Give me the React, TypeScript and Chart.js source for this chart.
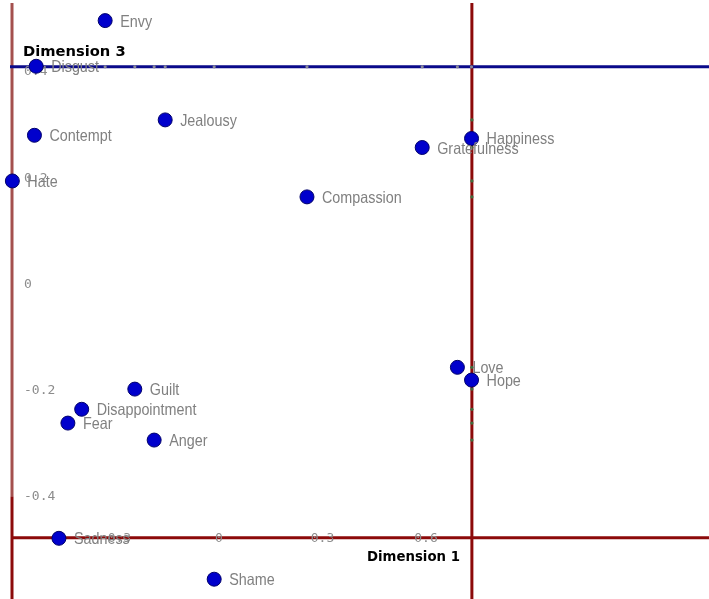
import React, { useEffect, useRef } from "react";
import { Chart, registerables } from "chart.js";

Chart.register(...registerables);

// ---- data ----
const emotions = [
  "Envy", "Disgust", "Contempt", "Jealousy", "Hate", "Compassion", "Gratefulness", "Happiness",
  "Love", "Hope", "Guilt", "Disappointment", "Fear", "Anger", "Sadness", "Shame",
];
const dimension1 = [
  -0.33, -0.53, -0.535, -0.156, -0.599, 0.255, 0.589, 0.732,
  0.691, 0.732, -0.244, -0.398, -0.438, -0.188, -0.464, -0.014,
];
const dimension3 = [
  0.497, 0.411, 0.281, 0.31, 0.195, 0.165, 0.258, 0.275,
  -0.156, -0.18, -0.197, -0.235, -0.261, -0.293, -0.478, -0.555,
];

const xTicks = [-0.3, 0, 0.3, 0.6];
const xTickLabels = ["-0.3", "0", "0.3", "0.6"];
const yTicks = [0.4, 0.2, 0, -0.2, -0.4];
const yTickLabels = ["0.4", "0.2", "0", "-0.2", "-0.4"];

const xRange = [-0.6348, 1.4203];
const yRange = [-0.5923, 0.5358];

// axis lines (data coordinates)
const verticalLines = [-0.6, 0.733];
const horizontalLines = [0.41, -0.477];
const lineTop = 0.53;
const leftLineSplit = -0.4;

const projectedOnHorizontal = ["Envy", "Jealousy", "Guilt", "Anger", "Shame", "Compassion", "Gratefulness", "Love", "Happiness"];
const projectedOnVertical = ["Jealousy", "Happiness", "Gratefulness", "Hate", "Compassion", "Love", "Guilt", "Disappointment", "Fear", "Anger"];

const titleX = "Dimension 1";
const titleY = "Dimension 3";

const idx = (name: string) => emotions.indexOf(name);

const axesPlugin = {
  id: "customAxes",
  beforeDatasetsDraw(chart: any) {
    const { ctx, scales } = chart;
    const xs = scales.x;
    const ys = scales.y;
    const xMaxPx = xs.getPixelForValue(xRange[1]);
    const yBottomPx = ys.getPixelForValue(yRange[0]);
    const topPx = ys.getPixelForValue(lineTop);
    ctx.save();
    ctx.lineWidth = 3;
    ctx.lineCap = "butt";

    const lx = xs.getPixelForValue(verticalLines[0]);
    const splitPx = ys.getPixelForValue(leftLineSplit);
    ctx.strokeStyle = "#a4504e";
    ctx.beginPath();
    ctx.moveTo(lx, topPx);
    ctx.lineTo(lx, splitPx);
    ctx.stroke();
    ctx.strokeStyle = "#8c0a0a";
    ctx.beginPath();
    ctx.moveTo(lx, splitPx);
    ctx.lineTo(lx, yBottomPx);
    ctx.stroke();

    const rx = xs.getPixelForValue(verticalLines[1]);
    ctx.strokeStyle = "#8c0a0a";
    ctx.beginPath();
    ctx.moveTo(rx, topPx);
    ctx.lineTo(rx, yBottomPx);
    ctx.stroke();

    const by = ys.getPixelForValue(horizontalLines[0]);
    ctx.strokeStyle = "#0a0a8a";
    ctx.beginPath();
    ctx.moveTo(lx - 2, by);
    ctx.lineTo(xMaxPx, by);
    ctx.stroke();

    const ry = ys.getPixelForValue(horizontalLines[1]);
    ctx.strokeStyle = "#8c0a0a";
    ctx.beginPath();
    ctx.moveTo(lx, ry);
    ctx.lineTo(xMaxPx, ry);
    ctx.stroke();

    // tick labels
    ctx.fillStyle = "#8c8c8c";
    ctx.font = "13px 'DejaVu Sans Mono'";
    ctx.textBaseline = "middle";
    ctx.textAlign = "left";
    yTicks.forEach((v, i) => {
      ctx.fillText(yTickLabels[i], lx + 12, ys.getPixelForValue(v));
    });
    ctx.textAlign = "center";
    xTicks.forEach((v, i) => {
      ctx.fillText(xTickLabels[i], xs.getPixelForValue(v), ry + 1);
    });

    // titles
    ctx.fillStyle = "#000";
    ctx.font = "bold 14.7px 'DejaVu Sans'";
    ctx.textAlign = "left";
    ctx.fillText(titleY, lx + 11, by - 15);
    ctx.font = "bold 13.3px 'DejaVu Sans'";
    ctx.textAlign = "right";
    ctx.fillText(titleX, rx - 12, ry + 20);
    ctx.restore();
  },
  afterDatasetsDraw(chart: any) {
    const { ctx, scales } = chart;
    const xs = scales.x;
    const ys = scales.y;
    ctx.save();
    ctx.fillStyle = "#808080";
    ctx.font = "16.5px 'Liberation Sans'";
    ctx.textBaseline = "alphabetic";
    ctx.textAlign = "left";
    emotions.forEach((name, i) => {
      const px = xs.getPixelForValue(dimension1[i]);
      const py = ys.getPixelForValue(dimension3[i]);
      ctx.save();
      ctx.translate(px + 15, py + 6);
      ctx.scale(0.87, 1);
      ctx.fillText(name, 0, 0);
      ctx.restore();
    });
    ctx.restore();
  },
};

export default function App() {
  const canvasRef = useRef<HTMLCanvasElement | null>(null);

  useEffect(() => {
    if (!canvasRef.current) return;
    const mainPoints = emotions.map((_, i) => ({ x: dimension1[i], y: dimension3[i] }));
    const hDots = projectedOnHorizontal.map((n) => ({ x: dimension1[idx(n)], y: horizontalLines[0] }));
    const vDots = projectedOnVertical.map((n) => ({ x: verticalLines[1], y: dimension3[idx(n)] }));
    const chart = new Chart(canvasRef.current, {
      type: "scatter",
      data: {
        datasets: [
          {
            label: "Emotions",
            data: mainPoints,
            backgroundColor: "#0000cc",
            borderColor: "#00006a",
            borderWidth: 1,
            pointRadius: 7,
          },
          {
            label: "proj-h",
            data: hDots,
            backgroundColor: "#8a8a9a",
            borderWidth: 0,
            pointRadius: 1.6,
          },
          {
            label: "proj-v",
            data: vDots,
            backgroundColor: "#3d6e3d",
            borderWidth: 0,
            pointRadius: 1.6,
          },
        ],
      },
      options: {
        animation: false,
        responsive: false,
        devicePixelRatio: 1,
        layout: { padding: 0, autoPadding: false },
        plugins: { legend: { display: false }, tooltip: { enabled: false } },
        scales: {
          x: { type: "linear", min: xRange[0], max: xRange[1], display: false },
          y: { type: "linear", min: yRange[0], max: yRange[1], display: false },
        },
      },
      plugins: [axesPlugin],
    });
    return () => chart.destroy();
  }, []);

  return (
    <div style={{ position: "absolute", left: 0, top: 0, width: 709, height: 599, background: "#fff" }}>
      <canvas ref={canvasRef} width={709} height={599} style={{ display: "block" }} />
    </div>
  );
}
